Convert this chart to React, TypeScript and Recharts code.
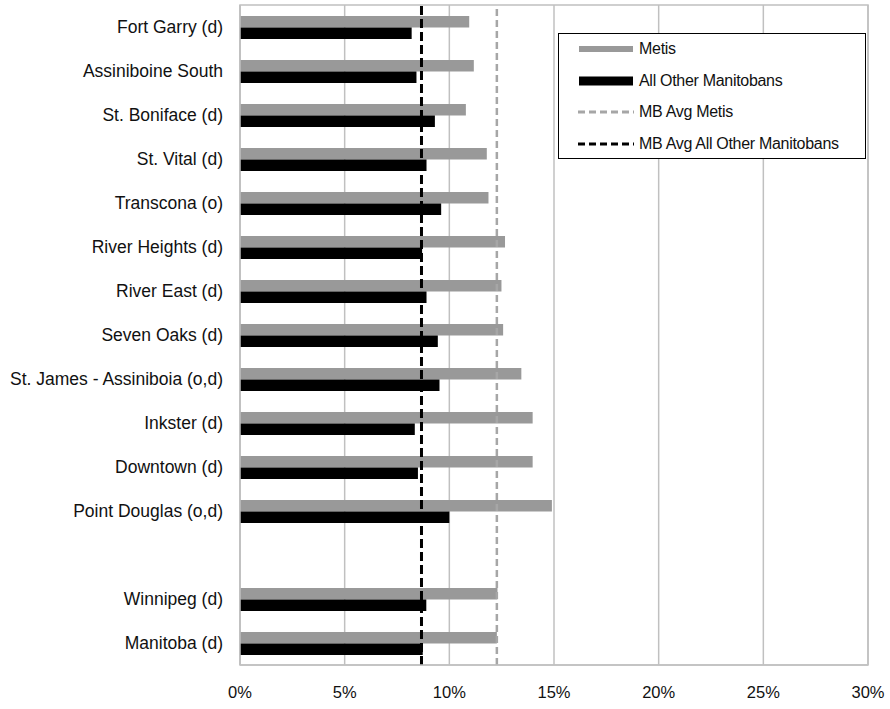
import React from 'react';
import { BarChart, Bar, XAxis, YAxis, CartesianGrid, ReferenceLine, ReferenceArea } from 'recharts';

const areas = [
  'Fort Garry (d)',
  'Assiniboine South',
  'St. Boniface (d)',
  'St. Vital (d)',
  'Transcona (o)',
  'River Heights (d)',
  'River East (d)',
  'Seven Oaks (d)',
  'St. James - Assiniboia (o,d)',
  'Inkster (d)',
  'Downtown (d)',
  'Point Douglas (o,d)',
  '',
  'Winnipeg (d)',
  'Manitoba (d)',
];

const metis = [10.95, 11.17, 10.79, 11.79, 11.87, 12.66, 12.49, 12.57, 13.44, 13.98, 13.98, 14.9, null, 12.3, 12.27];
const otherManitobans = [8.2, 8.43, 9.31, 8.91, 9.61, 8.7, 8.91, 9.45, 9.53, 8.35, 8.5, 10.0, null, 8.9, 8.73];

// provincial averages drawn as dashed reference lines
const mbAvgMetis = 12.27;
const mbAvgOther = 8.67;

const xTicks = [0, 5, 10, 15, 20, 25, 30];

const data = areas.map((name, i) => ({
  name,
  metis: metis[i],
  other: otherManitobans[i],
}));

const FONT = '"Liberation Sans", Arial, sans-serif';
const GRID = '#c0c0c0';

const legendItems = [
  { label: 'Metis', kind: 'bar', color: '#999999', h: 6 },
  { label: 'All Other Manitobans', kind: 'bar', color: '#000000', h: 9 },
  { label: 'MB Avg Metis', kind: 'dash', color: '#a6a6a6', h: 3 },
  { label: 'MB Avg All Other Manitobans', kind: 'dash', color: '#000000', h: 3 },
];

function LegendBox() {
  return (
    <div
      style={{
        position: 'absolute',
        left: 558,
        top: 33,
        width: 306,
        height: 124,
        border: '1.5px solid #000',
        background: '#fff',
        fontFamily: FONT,
        fontSize: 16,
        letterSpacing: -0.3,
        color: '#111',
      }}
    >
      {legendItems.map((item, i) => (
        <div
          key={item.label}
          style={{ position: 'absolute', left: 19, top: 4 + i * 31.7, height: 22, display: 'flex', alignItems: 'center' }}
        >
          <svg width={56} height={12} style={{ marginRight: 5 }}>
            {item.kind === 'bar' ? (
              <rect x={1} y={6 - item.h / 2} width={54} height={item.h} fill={item.color} />
            ) : (
              <line x1={0} y1={6} x2={56} y2={6} stroke={item.color} strokeWidth={3} strokeDasharray="7 4" />
            )}
          </svg>
          <span style={{ whiteSpace: 'nowrap' }}>{item.label}</span>
        </div>
      ))}
    </div>
  );
}

export default function App() {
  return (
    <div style={{ position: 'absolute', left: 0, top: 0, width: 890, height: 709, background: '#fff' }}>
      <BarChart
        width={890}
        height={709}
        data={data}
        layout="vertical"
        margin={{ top: 5, right: 22, bottom: 14, left: 0 }}
        barSize={11.5}
        barGap={0}
      >
        <CartesianGrid horizontal={false} stroke={GRID} strokeWidth={1.5} />
        <XAxis
          type="number"
          domain={[0, 30]}
          ticks={xTicks}
          tickFormatter={(v) => `${v}%`}
          axisLine={{ stroke: GRID, strokeWidth: 1.5 }}
          tickLine={false}
          tickSize={6}
          tickMargin={15}
          tick={{ fontFamily: FONT, fontSize: 16.5, fill: '#111' }}
        />
        <YAxis
          type="category"
          dataKey="name"
          width={240}
          interval={0}
          axisLine={{ stroke: GRID, strokeWidth: 1.5 }}
          tickLine={false}
          tickSize={6}
          tickMargin={11}
          tick={{ fontFamily: FONT, fontSize: 17.5, fill: '#111' }}
        />
        <ReferenceArea x1={0} x2={30} fill="none" stroke={GRID} strokeWidth={1.5} />
        <Bar dataKey="metis" name="Metis" fill="#999999" isAnimationActive={false} />
        <Bar dataKey="other" name="All Other Manitobans" fill="#000000" isAnimationActive={false} />
        <ReferenceLine x={mbAvgMetis} stroke="#a6a6a6" strokeWidth={2.5} strokeDasharray="7 4" />
        <ReferenceLine x={mbAvgOther} stroke="#000000" strokeWidth={3} strokeDasharray="9 4" />
      </BarChart>
      <LegendBox />
    </div>
  );
}
